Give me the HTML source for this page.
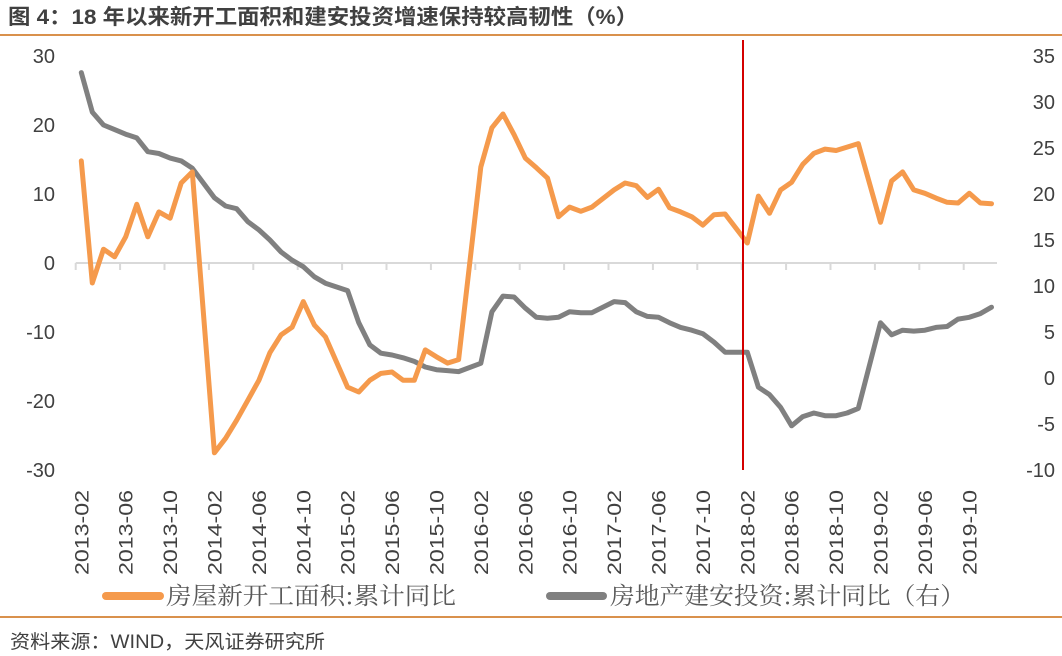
<!DOCTYPE html>
<html><head><meta charset="utf-8"><style>
body{margin:0;background:#fff;}
svg{display:block;font-family:"Liberation Sans","Noto Sans CJK SC",sans-serif;}
</style></head><body>
<svg width="1062" height="656" viewBox="0 0 1062 656">
<text x="8" y="24" font-size="21" font-weight="bold" fill="#404040" textLength="630" lengthAdjust="spacingAndGlyphs">图 4：18 年以来新开工面积和建安投资增速保持较高韧性（%）</text>
<rect x="0" y="34" width="1062" height="2" fill="#d9914c"/>
<g id="yl"></g>
<g id="yr"></g>
<g id="xa"></g>
<g id="series"></g>
<line x1="743" y1="40" x2="743" y2="470" stroke="#d40000" stroke-width="2"/>
<g>
<g>
<line x1="106" y1="596" x2="160" y2="596" stroke="#f59a4c" stroke-width="8" stroke-linecap="round"/>
<text x="166" y="604" font-size="24" fill="#595959" textLength="290" lengthAdjust="spacingAndGlyphs" font-family="'Noto Serif CJK SC',serif">房屋新开工面积:累计同比</text></g>
<g>
<line x1="550" y1="596" x2="603" y2="596" stroke="#808080" stroke-width="8" stroke-linecap="round"/>
<text x="610" y="604" font-size="24" fill="#595959" textLength="355" lengthAdjust="spacingAndGlyphs" font-family="'Noto Serif CJK SC',serif">房地产建安投资:累计同比（右）</text></g>
</g>
<rect x="0" y="616" width="1062" height="2" fill="#d9914c"/>
<text x="10" y="648" font-size="19" fill="#404040" textLength="315" lengthAdjust="spacingAndGlyphs">资料来源：WIND，天风证券研究所</text>
</svg>
<script>
const startYear = 2013, startMonth = 2;
const newStarts = [14.8,-2.9,2.0,0.9,3.8,8.5,3.8,7.4,6.5,11.6,13.2,null,
-27.5,-25.4,-22.8,-19.9,-17,-13,-10.4,-9.3,-5.6,-9,-10.7,null,
-18,-18.7,-17,-16,-15.8,-17,-17,-12.6,-13.6,-14.5,-14,null,
13.9,19.6,21.6,18.6,15.2,13.8,12.3,6.7,8.1,7.5,8.1,null,
10.6,11.6,11.2,9.5,10.7,8,7.4,6.7,5.5,7,7.1,null,
2.9,9.7,7.2,10.6,11.7,14.3,15.9,16.5,16.3,16.8,17.3,null,
5.9,11.9,13.2,10.6,10.1,9.4,8.8,8.7,10.1,8.7,8.6];
const constructionInv = [33.2,28.9,27.5,27,26.5,26.1,24.6,24.4,23.9,23.6,22.8,null,
19.6,18.7,18.4,17,16.1,15,13.7,12.8,12.1,11,10.3,null,
9.5,6,3.6,2.7,2.5,2.2,1.8,1.2,0.9,0.8,0.7,null,
1.6,7.2,8.9,8.8,7.6,6.6,6.5,6.6,7.2,7.1,7.1,null,
8.3,8.2,7.2,6.7,6.6,6,5.5,5.2,4.8,3.9,2.8,null,
2.8,-1,-1.8,-3.2,-5.2,-4.2,-3.8,-4.1,-4.1,-3.8,-3.3,null,
6,4.7,5.2,5.1,5.2,5.5,5.6,6.4,6.6,7,7.7];
const leftTicks = [30,20,10,0,-10,-20,-30];
const rightTicks = [35,30,25,20,15,10,5,0,-5,-10];

const NS="http://www.w3.org/2000/svg";
const x0=75.7, step=11.1;
const xPos = i => x0 + step*(i+0.5);
const yL = v => 263 - (v)*(414/60);
const yR = v => 378 - v*(414/45);
function mk(tag, attrs, parent){const e=document.createElementNS(NS,tag);for(const k in attrs)e.setAttribute(k,attrs[k]);parent.appendChild(e);return e;}
const yl=document.getElementById('yl'), yr=document.getElementById('yr'), xa=document.getElementById('xa'), ser=document.getElementById('series');
leftTicks.forEach(v=>{const t=mk('text',{x:55,y:yL(v)+7,'font-size':20,fill:'#404040','text-anchor':'end'},yl);t.textContent=v;

});
rightTicks.forEach(v=>{const t=mk('text',{x:1055,y:yR(v)+7,'font-size':20,fill:'#404040','text-anchor':'end'},yr);t.textContent=v;

});
const n=newStarts.length;
const axisLine=mk('line',{x1:x0,y1:yL(0),x2:x0+step*n,y2:yL(0),stroke:'#d9d9d9','stroke-width':2},xa);


for(let i=0;i<=n;i+=4){
 const tk=mk('line',{x1:x0+step*i,y1:yL(0),x2:x0+step*i,y2:yL(0)+7,stroke:'#d9d9d9','stroke-width':2},xa);
 
 
}
for(let i=0;i<n;i+=4){
 const m=startMonth-1+i, yr_=startYear+Math.floor(m/12), mo=(m%12)+1;
 const lab=yr_+'-'+String(mo).padStart(2,'0');
 const x=xPos(i)+7, y=490;
 const t=mk('text',{x:x,y:y,'font-size':19,fill:'#404040','text-anchor':'end',textLength:85,lengthAdjust:'spacingAndGlyphs',transform:`rotate(-90 ${x} ${y})`},xa);
 t.textContent=lab;
 
 
}
function path(arr,yf,color,name){
 let d='';arr.forEach((v,i)=>{if(v===null)return;d+=(d?'L':'M')+xPos(i).toFixed(1)+','+yf(v).toFixed(1);});
 const p=mk('path',{d:d,fill:'none',stroke:color,'stroke-width':5,'stroke-linejoin':'round','stroke-linecap':'round'},ser);
 
 
}
path(constructionInv,yR,'#808080','line-construction-investment');
path(newStarts,yL,'#f59a4c','line-new-starts');
</script>
</body></html>
